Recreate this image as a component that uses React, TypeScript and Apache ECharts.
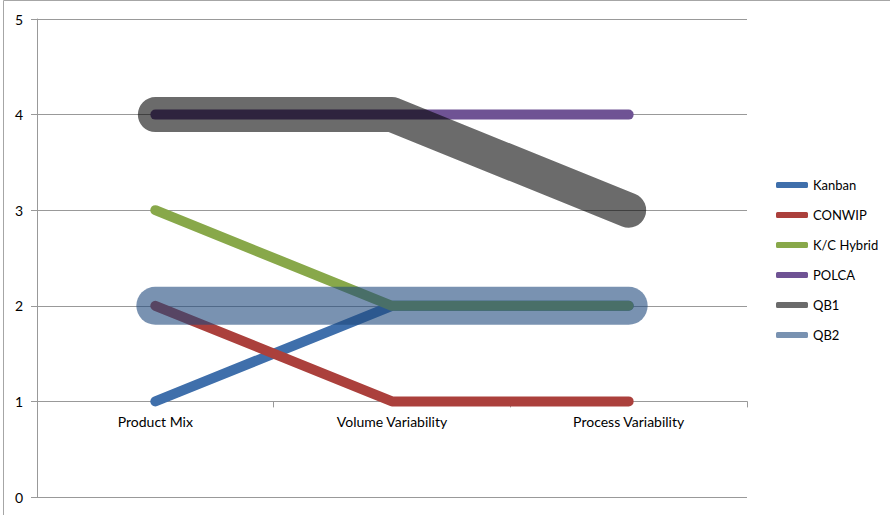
import React, { useEffect, useRef } from "react";
import * as echarts from "echarts";

const categories = ["Product Mix", "Volume Variability", "Process Variability"];
const kanban = [1, 2, 2];
const conwip = [2, 1, 1];
const kcHybrid = [3, 2, 2];
const polca = [4, 4, 4];
const qb1 = [4, 4, 3];
const qb2 = [2, 2, 2];
const yTicks = [0, 1, 2, 3, 4, 5];

const FONT = "Lato, 'Open Sans', sans-serif";

export default function App() {
  const ref = useRef<HTMLDivElement>(null);
  useEffect(() => {
    document.body.style.margin = "0";
    const chart = echarts.init(ref.current!, null, { renderer: "svg" });
    const gridTop = 19;
    const gridBottom = 18;
    const gridH = 515 - gridTop - gridBottom;
    const mk = (name: string, data: number[], color: string, width: number) => ({
      name,
      type: "line",
      data,
      showSymbol: false,
      symbol: "none",
      itemStyle: { color },
      lineStyle: { color, width, cap: "round", join: "round" },
      emphasis: { disabled: true },
    });
    chart.setOption({
      animation: false,
      textStyle: { fontFamily: FONT },
      graphic: [
        {
          type: "rect",
          shape: { x: 3.5, y: 0.5, width: 900, height: 530 },
          style: { fill: "none", stroke: "#a6a6a6", lineWidth: 1 },
          silent: true,
        },
      ],
      grid: { left: 37, right: 143, top: gridTop, bottom: gridBottom, containLabel: false },
      legend: {
        orient: "vertical",
        left: 771,
        top: 173,
        icon: "roundRect",
        itemWidth: 32,
        itemHeight: 6,
        itemGap: 16,
        textStyle: { fontSize: 13, color: "#000", fontFamily: FONT, lineHeight: 14 },
        data: ["Kanban", "CONWIP", "K/C Hybrid", "POLCA", "QB1", "QB2"],
      },
      xAxis: {
        type: "category",
        data: categories,
        boundaryGap: true,
        offset: -gridH / 5,
        axisLine: { show: true, lineStyle: { color: "#999", width: 1 } },
        axisTick: { show: true, length: 6, lineStyle: { color: "#999" } },
        axisLabel: { color: "#000", fontSize: 14, margin: 13, fontFamily: FONT },
      },
      yAxis: {
        type: "value",
        min: 0,
        max: 5,
        interval: 1,
        axisLine: { show: true, lineStyle: { color: "#999", width: 1 } },
        axisTick: { show: true, length: 6, lineStyle: { color: "#999" } },
        axisLabel: {
          color: "#000",
          fontSize: 14,
          margin: 14,
          fontFamily: FONT,
          formatter: (v: number) => (yTicks.includes(v) ? String(v) : ""),
        },
        splitLine: { show: true, lineStyle: { color: "#999", width: 1 } },
      },
      series: [
        mk("Kanban", kanban, "#3f6fab", 10),
        mk("CONWIP", conwip, "#ab403c", 10),
        mk("K/C Hybrid", kcHybrid, "#88a84a", 10),
        mk("POLCA", polca, "#6f5394", 10),
        mk("QB1", qb1, "rgba(0,0,0,0.58)", 35),
        mk("QB2", qb2, "rgba(31,73,125,0.6)", 38),
      ],
    });
    return () => chart.dispose();
  }, []);
  return <div ref={ref} style={{ width: 890, height: 515 }} />;
}
